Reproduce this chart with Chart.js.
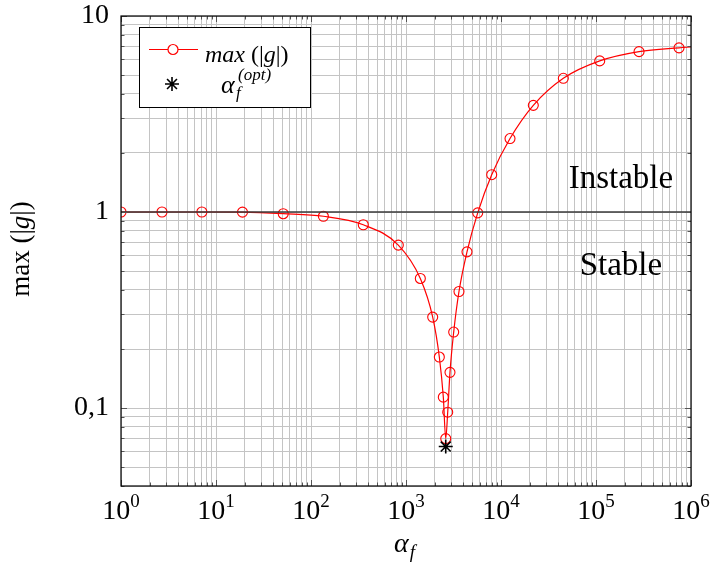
<!DOCTYPE html>
<html>
<head>
<meta charset="utf-8">
<script src="https://cdn.jsdelivr.net/npm/chart.js@4.4.0/dist/chart.umd.min.js"></script>
<style>
  html, body { margin: 0; padding: 0; background: #fff; }
</style>
</head>
<body>
<canvas id="myChart" width="712" height="568"></canvas>
<script>
// max(|g|) en fonction de alpha_f
const alphaF = [1, 2.7, 7.1, 19, 51, 135, 355, 830, 1415, 1910, 2243, 2471, 2620, 2748, 2904, 3177, 3612, 4385, 5686, 7980, 12440, 21880, 45300, 109400, 283700, 748000, 1000000];
const maxG = [1, 1, 1, 0.998, 0.98, 0.951, 0.861, 0.678, 0.458, 0.291, 0.182, 0.1136, 0.0698, 0.0952, 0.152, 0.244, 0.393, 0.626, 0.99, 1.55, 2.37, 3.50, 4.81, 5.90, 6.58, 6.88, 6.95];

// optimum
const optAlpha = [2620];
const optG = [0.0636];

// limite de stabilite
const limitX = [1, 1000000];
const limitY = [1, 1];

// axes
const xMin = 1, xMax = 1000000;
const yMin = 0.04, yMax = 10;
const xTickExp = [0, 1, 2, 3, 4, 5, 6];
const yTickValues = [0.1, 1, 10];
const yTickLabels = ['0,1', '1', '10'];

// zones
const zoneLabels = ['Instable', 'Stable'];
const zoneX = [183000, 183000];
const zoneY = [1.33, 0.476];

const serif = '"Liberation Serif", "DejaVu Serif", serif';
const gridGray = '#c4c4c4';

function logTicks(min, max) {
    const out = [];
    for (let e = Math.floor(Math.log10(min)); e <= Math.ceil(Math.log10(max)); e++) {
        for (let m = 1; m < 10; m++) {
            const v = +(m * Math.pow(10, e)).toPrecision(4);
            if (v >= min * 0.999 && v <= max * 1.001) out.push({ value: v });
        }
    }
    return out;
}

function isMajor(v) {
    const l = Math.log10(v);
    return Math.abs(l - Math.round(l)) < 1e-6;
}

const decorations = {
    id: 'decorations',
    afterDraw(chart) {
        const ctx = chart.ctx;
        const area = chart.chartArea;
        const xs = chart.scales.x;
        const ys = chart.scales.y;
        ctx.save();

        // petits traits a l'interieur du cadre
        ctx.strokeStyle = '#555';
        ctx.lineWidth = 1;
        ctx.beginPath();
        xs.ticks.forEach(t => {
            const px = Math.round(xs.getPixelForValue(t.value)) + 0.5;
            const len = isMajor(t.value) ? 6 : 3.5;
            ctx.moveTo(px, area.bottom); ctx.lineTo(px, area.bottom - len);
            ctx.moveTo(px, area.top); ctx.lineTo(px, area.top + len);
        });
        ys.ticks.forEach(t => {
            const py = Math.round(ys.getPixelForValue(t.value)) + 0.5;
            const len = isMajor(t.value) ? 6 : 3.5;
            ctx.moveTo(area.left, py); ctx.lineTo(area.left + len, py);
            ctx.moveTo(area.right, py); ctx.lineTo(area.right - len, py);
        });
        ctx.stroke();

        // cadre
        ctx.strokeStyle = '#000';
        ctx.lineWidth = 1.2;
        ctx.strokeRect(area.left, area.top, area.right - area.left, area.bottom - area.top);

        // etiquettes de l'axe x : 10^k
        ctx.fillStyle = '#000';
        ctx.textBaseline = 'alphabetic';
        ctx.textAlign = 'left';
        const big = '28px ' + serif;
        const small = '19px ' + serif;
        xTickExp.forEach(e => {
            const px = xs.getPixelForValue(Math.pow(10, e));
            ctx.font = big;
            const w1 = ctx.measureText('10').width;
            ctx.font = small;
            const w2 = ctx.measureText(String(e)).width;
            const start = px - (w1 + w2) / 2;
            ctx.font = big;
            ctx.fillText('10', start, area.bottom + 33);
            ctx.font = small;
            ctx.fillText(String(e), start + w1, area.bottom + 21);
        });

        // titre x : alpha_f
        const midX = (area.left + area.right) / 2;
        ctx.font = 'italic 28px ' + serif;
        const wa = ctx.measureText('α').width;
        ctx.font = 'italic 19px ' + serif;
        const wf = ctx.measureText('f').width;
        ctx.font = 'italic 28px ' + serif;
        ctx.fillText('α', midX - (wa + wf) / 2 - 2, 552);
        ctx.font = 'italic 19px ' + serif;
        ctx.fillText('f', midX - (wa + wf) / 2 - 1 + wa, 558);

        // titre y : max(|g|)
        ctx.save();
        ctx.translate(29, 249);
        ctx.rotate(-Math.PI / 2);
        const parts = [['max (|', false], ['g', true], ['|)', false]];
        let total = 0;
        parts.forEach(p => {
            ctx.font = (p[1] ? 'italic ' : '') + '27px ' + serif;
            total += ctx.measureText(p[0]).width;
        });
        let cx = -total / 2;
        parts.forEach(p => {
            ctx.font = (p[1] ? 'italic ' : '') + '27px ' + serif;
            ctx.fillText(p[0], cx, 0);
            cx += ctx.measureText(p[0]).width;
        });
        ctx.restore();

        // zones
        ctx.textAlign = 'center';
        ctx.font = '33px ' + serif;
        zoneLabels.forEach((txt, i) => {
            ctx.fillText(txt, xs.getPixelForValue(zoneX[i]), ys.getPixelForValue(zoneY[i]));
        });

        // legende
        ctx.textAlign = 'left';
        ctx.fillStyle = '#fff';
        ctx.fillRect(139.5, 27.5, 171, 80);
        ctx.strokeStyle = '#000';
        ctx.lineWidth = 1;
        ctx.strokeRect(139.5, 27.5, 171, 80);

        ctx.strokeStyle = '#ff0000';
        ctx.lineWidth = 1.2;
        ctx.beginPath();
        ctx.moveTo(149, 49.5); ctx.lineTo(198, 49.5);
        ctx.stroke();
        ctx.fillStyle = '#fff';
        ctx.beginPath();
        ctx.arc(173, 49.5, 5, 0, Math.PI * 2);
        ctx.fill();
        ctx.stroke();

        ctx.fillStyle = '#000';
        const leg = [['max', true], [' (|', false], ['g', true], ['|)', false]];
        let lx = 205;
        leg.forEach(p => {
            ctx.font = (p[1] ? 'italic ' : '') + '24px ' + serif;
            ctx.fillText(p[0], lx, 62);
            lx += ctx.measureText(p[0]).width;
        });

        // asterisque
        ctx.strokeStyle = '#000';
        ctx.lineWidth = 1.6;
        ctx.beginPath();
        for (let k = 0; k < 4; k++) {
            const a = k * Math.PI / 4;
            ctx.moveTo(172 - 7 * Math.cos(a), 84 - 7 * Math.sin(a));
            ctx.lineTo(172 + 7 * Math.cos(a), 84 + 7 * Math.sin(a));
        }
        ctx.stroke();

        ctx.font = 'italic 26px ' + serif;
        ctx.fillText('α', 221, 93);
        ctx.font = 'italic 17px ' + serif;
        ctx.fillText('(opt)', 238, 80);
        ctx.fillText('f', 236, 98);

        ctx.restore();
    }
};

new Chart(document.getElementById('myChart'), {
    type: 'line',
    data: {
        datasets: [
            {
                label: 'limite',
                data: limitX.map((x, i) => ({ x: x, y: limitY[i] })),
                borderColor: '#3a3a3a',
                borderWidth: 1.6,
                pointRadius: 0,
                tension: 0
            },
            {
                label: 'opt',
                data: optAlpha.map((x, i) => ({ x: x, y: optG[i] })),
                showLine: false,
                pointStyle: 'star',
                pointRadius: 7,
                borderColor: '#000',
                backgroundColor: '#000',
                pointBorderWidth: 1.6,
                clip: false
            },
            {
                label: 'max (|g|)',
                data: alphaF.map((x, i) => ({ x: x, y: maxG[i] })),
                borderColor: '#ff0000',
                borderWidth: 1.2,
                backgroundColor: 'rgba(0,0,0,0)',
                pointRadius: ctx => ctx.dataIndex === alphaF.length - 1 ? 0 : 5,
                pointBorderWidth: 1.1,
                pointBorderColor: '#ff0000',
                pointBackgroundColor: 'rgba(0,0,0,0)',
                cubicInterpolationMode: 'monotone'
            }
        ]
    },
    options: {
        responsive: false,
        animation: false,
        events: [],
        layout: { padding: { top: 16, right: 21, left: 0, bottom: 0 } },
        plugins: {
            legend: { display: false },
            tooltip: { enabled: false }
        },
        scales: {
            x: {
                type: 'logarithmic',
                min: xMin,
                max: xMax,
                afterBuildTicks: s => { s.ticks = logTicks(xMin, xMax); },
                afterFit: s => { s.height = 82; s.paddingLeft = 0; s.paddingRight = 0; },
                ticks: { display: false },
                grid: { color: gridGray, lineWidth: 1, drawTicks: false },
                border: { display: false }
            },
            y: {
                type: 'logarithmic',
                min: yMin,
                max: yMax,
                afterBuildTicks: s => { s.ticks = logTicks(yMin, yMax); },
                afterFit: s => { s.width = 121; s.paddingTop = 0; s.paddingBottom = 0; },
                ticks: {
                    autoSkip: false,
                    padding: 12,
                    color: '#000',
                    font: { family: serif, size: 28, lineHeight: 1 },
                    callback: v => {
                        const i = yTickValues.findIndex(t => Math.abs(t - v) / t < 1e-6);
                        return i >= 0 ? yTickLabels[i] : '';
                    }
                },
                grid: { color: gridGray, lineWidth: 1, drawTicks: false },
                border: { display: false }
            }
        }
    },
    plugins: [decorations]
});
</script>
</body>
</html>
